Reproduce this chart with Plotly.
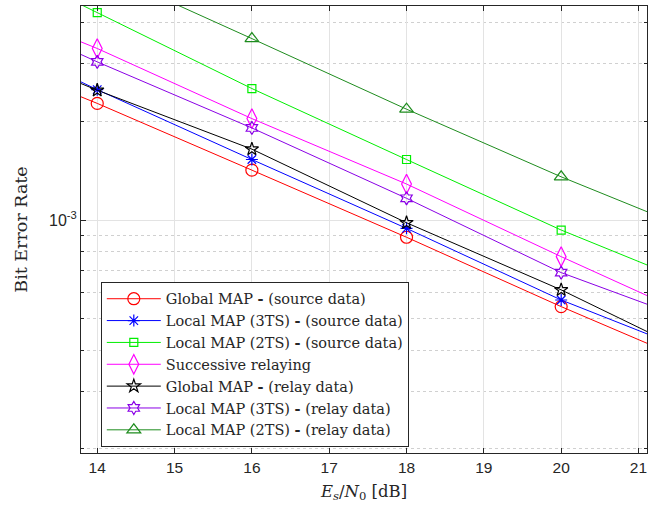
import plotly.graph_objects as go

# Data (E_s/N_0 in dB, BER) — points at 12 and 22 lie outside the visible axis range
snr_db = [12, 14, 16, 18, 20, 22]
global_src = [3.53e-3, 2.27e-3, 1.42e-3, 8.86e-4, 5.44e-4, 3.42e-4]
local3_src = [4.2e-3, 2.50e-3, 1.53e-3, 9.43e-4, 5.70e-4, 3.71e-4]
local2_src = [7.33e-3, 4.30e-3, 2.52e-3, 1.53e-3, 9.32e-4, 5.99e-4]
successive = [5.19e-3, 3.34e-3, 2.04e-3, 1.288e-3, 7.73e-4, 4.72e-4]
global_rel = [3.90e-3, 2.49e-3, 1.646e-3, 9.81e-4, 6.12e-4, 3.61e-4]
local3_rel = [4.97e-3, 3.04e-3, 1.91e-3, 1.165e-3, 6.91e-4, 4.63e-4]
local2_rel = [9.5e-3, 5.85e-3, 3.58e-3, 2.18e-3, 1.355e-3, 8.71e-4]

names = [
    "Global MAP <b>-</b> (source data)",
    "Local MAP (3TS) <b>-</b> (source data)",
    "Local MAP (2TS) <b>-</b> (source data)",
    "Successive relaying",
    "Global MAP <b>-</b> (relay data)",
    "Local MAP (3TS) <b>-</b> (relay data)",
    "Local MAP (2TS) <b>-</b> (relay data)",
]
series = [global_src, local3_src, local2_src, successive, global_rel, local3_rel, local2_rel]
colors = ["#ff0000", "#0000ff", "#00ee00", "#ff00ff", "#000000", "#8a00e6", "#1e8c1e"]
symbols = ["circle-open", "asterisk-open", "square-open", "diamond-tall-open",
           "star-open", "hexagram-open", "triangle-up-open"]
sizes = [12, 10, 8, 14, 10, 10, 12]

fig = go.Figure()
for nm, ys, c, s, sz in zip(names, series, colors, symbols, sizes):
    fig.add_trace(go.Scatter(
        x=snr_db, y=ys, name=nm, mode="lines+markers",
        line=dict(color=c, width=1),
        marker=dict(symbol=s, size=sz, color=c, line=dict(color=c, width=1.2)),
        cliponaxis=True,
    ))

axis_col = "#262626"
grid_col = "#e3e3e3"

minor_vals = [2e-4, 3e-4, 4e-4, 5e-4, 6e-4, 7e-4, 8e-4, 9e-4, 2e-3, 3e-3, 4e-3]

fig.update_layout(
    width=662, height=508,
    margin=dict(l=81, r=15, t=6, b=55),
    paper_bgcolor="white", plot_bgcolor="white",
    showlegend=True,
    legend=dict(
        x=0.035, y=0.383, xanchor="left", yanchor="top",
        bgcolor="white", bordercolor=axis_col, borderwidth=1,
        font=dict(family="DejaVu Serif", size=14.5, color="#262626"),
        tracegroupgap=0, itemwidth=54,
    ),
    xaxis=dict(
        range=[13.79, 21.11], tickmode="array", tickvals=[14, 15, 16, 17, 18, 19, 20, 21],
        showgrid=True, gridcolor=grid_col, gridwidth=1,
        ticks="inside", ticklen=5, tickcolor=axis_col,
        showline=True, linecolor=axis_col, linewidth=1, mirror="ticks",
        zeroline=False,
        tickfont=dict(family="Liberation Sans", size=15.5, color="#262626"),
        title=dict(text="<i>E<sub>s</sub></i>/<i>N</i><sub>0</sub> [dB]",
                   font=dict(family="DejaVu Serif", size=16.5, color="#262626"),
                   standoff=10),
    ),
    yaxis=dict(
        type="log", range=[-3.7113, -2.3466],
        tickmode="array", tickvals=[1e-3], ticktext=["10<sup>-3</sup>"],
        showgrid=True, gridcolor=grid_col, gridwidth=1,
        ticks="inside", ticklen=5, tickcolor=axis_col,
        showline=True, linecolor=axis_col, linewidth=1, mirror="ticks",
        zeroline=False,
        minor=dict(tickmode="array", tickvals=minor_vals, showgrid=True,
                   gridcolor="#d0d0d0", griddash="dot", gridwidth=1,
                   ticks="inside", ticklen=3, tickcolor=axis_col),
        tickfont=dict(family="Liberation Sans", size=16, color="#262626"),
        title=dict(text="Bit Error Rate",
                   font=dict(family="DejaVu Serif", size=17.5, color="#262626"),
                   standoff=16),
    ),
)

fig.write_html("out.html", config={"displayModeBar": False},
               post_script="document.body.style.margin='0px';")
